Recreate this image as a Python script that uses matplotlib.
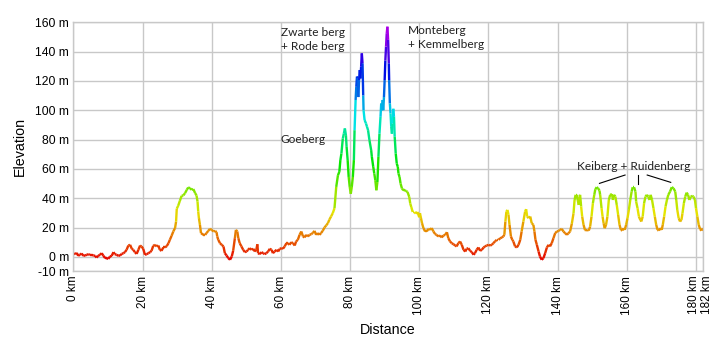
import numpy as np
import matplotlib
matplotlib.use("Agg")
import matplotlib.pyplot as plt
from matplotlib.collections import LineCollection
from matplotlib.colors import hsv_to_rgb
from matplotlib.transforms import ScaledTranslation

# ---- data ----
distance_km = [
    0.0, 0.5, 1.0, 1.4, 1.9, 2.4, 2.9, 3.4, 3.9, 4.3, 4.8, 5.3, 5.8, 6.3, 6.7, 7.2, 7.7, 8.2, 8.7, 9.2,
    9.6, 10.1, 10.6, 11.1, 11.6, 12.0, 12.5, 13.0, 13.5, 14.0, 14.5, 14.9, 15.4, 15.9, 16.4, 16.9, 17.3,
    17.8, 18.3, 18.8, 19.3, 19.7, 20.2, 20.7, 21.2, 21.7, 22.2, 22.6, 23.1, 23.6, 24.1, 24.6, 25.0, 25.5,
    26.0, 26.5, 27.0, 27.5, 27.9, 28.4, 28.9, 29.4, 29.7, 29.9, 30.3, 30.8, 31.3, 31.8, 32.3, 32.8, 33.2,
    33.7, 34.2, 34.7, 35.2, 35.6, 35.9, 36.1, 36.3, 36.6, 36.9, 37.6, 38.1, 38.5, 39.0, 39.5, 40.0, 40.5,
    41.0, 41.4, 41.6, 41.9, 42.4, 42.9, 43.4, 43.8, 44.3, 44.8, 45.3, 45.8, 46.2, 46.7, 47.0, 47.4, 47.7,
    48.1, 48.6, 49.1, 49.6, 50.1, 50.5, 51.0, 51.5, 52.0, 52.5, 52.9, 53.2, 53.4, 53.9, 54.4, 54.9, 55.3,
    55.8, 56.3, 56.8, 57.3, 57.7, 58.2, 58.7, 59.2, 59.7, 60.1, 60.6, 61.1, 61.6, 62.0, 62.5, 63.0, 63.5,
    64.0, 64.4, 64.9, 65.4, 65.9, 66.4, 66.8, 67.3, 67.8, 68.3, 68.8, 69.2, 69.7, 70.2, 70.7, 71.2, 71.6,
    72.1, 72.6, 73.1, 73.6, 74.0, 74.5, 75.0, 75.5, 76.0, 76.5, 76.9, 77.2, 77.5, 77.9, 78.2, 78.5, 78.8,
    79.0, 79.3, 79.6, 79.9, 80.2, 80.5, 80.8, 81.1, 81.3, 81.6, 81.8, 82.0, 82.2, 82.4, 82.6, 82.8, 83.0,
    83.2, 83.4, 83.6, 83.8, 83.9, 84.2, 84.6, 84.9, 85.2, 85.6, 86.1, 86.3, 86.7, 87.0, 87.3, 87.6, 87.9,
    88.2, 88.5, 88.8, 89.0, 89.2, 89.4, 89.6, 89.8, 90.0, 90.2, 90.4, 90.6, 90.8, 91.0, 91.2, 91.3, 91.5,
    91.7, 91.9, 92.1, 92.3, 92.5, 92.7, 92.9, 93.2, 93.5, 93.8, 94.0, 94.3, 94.6, 95.0, 95.4, 95.8, 96.2,
    96.6, 97.1, 97.4, 97.7, 98.1, 98.6, 99.0, 99.5, 100.0, 100.2, 100.5, 100.8, 101.2, 101.7, 102.2,
    102.6, 103.1, 103.6, 104.1, 104.6, 105.0, 105.5, 106.0, 106.5, 107.0, 107.5, 108.0, 108.4, 108.9,
    109.4, 109.9, 110.4, 110.8, 111.3, 111.8, 112.3, 112.8, 113.3, 113.7, 114.2, 114.7, 115.2, 115.7,
    116.1, 116.6, 117.1, 117.6, 118.1, 118.6, 119.0, 119.5, 120.0, 120.5, 121.0, 121.4, 121.9, 122.4,
    122.9, 123.4, 123.9, 124.3, 124.6, 124.9, 125.2, 125.5, 125.8, 126.1, 126.5, 126.9, 127.2, 127.7,
    128.2, 128.7, 129.2, 129.6, 130.1, 130.6, 130.9, 131.2, 131.6, 132.1, 132.5, 133.0, 133.3, 133.6,
    134.0, 134.5, 134.9, 135.4, 135.9, 136.4, 136.9, 137.4, 137.8, 138.3, 138.8, 139.3, 139.8, 140.3,
    140.7, 141.2, 141.7, 142.2, 142.7, 143.1, 143.6, 144.1, 144.6, 144.9, 145.2, 145.5, 145.8, 146.1,
    146.3, 146.5, 146.8, 147.1, 147.5, 147.9, 148.2, 148.6, 149.0, 149.4, 149.8, 150.2, 150.6, 150.9,
    151.3, 151.7, 152.1, 152.3, 152.7, 153.0, 153.3, 153.6, 154.0, 154.4, 154.8, 155.2, 155.7, 156.0,
    156.3, 156.7, 157.1, 157.5, 157.9, 158.3, 158.7, 159.0, 159.4, 159.8, 160.2, 160.6, 161.0, 161.4,
    161.7, 162.1, 162.5, 162.7, 163.1, 163.5, 163.9, 164.2, 164.6, 165.0, 165.4, 165.8, 166.2, 166.6,
    166.9, 167.3, 167.7, 168.1, 168.5, 168.9, 169.2, 169.6, 170.1, 170.4, 170.8, 171.2, 171.6, 172.0,
    172.5, 173.0, 173.5, 174.0, 174.3, 174.6, 175.0, 175.4, 175.8, 176.1, 176.5, 176.9, 177.3, 177.7,
    178.1, 178.5, 178.9, 179.3, 179.7, 180.0, 180.4, 180.8, 181.2, 181.6, 182.0,
]
elevation_m = [
    2.3, 1.8, 2.7, 0.7, 1.4, 2.3, 0.7, 0.9, 1.4, 1.8, 1.4, 1.4, 0.9, 0.7, -0.5, 0.7, 1.4, 2.5, 0.7, -0.9,
    -0.9, -1.4, 0.2, 0.7, 3.2, 1.8, 1.4, 0.7, 0.9, 2.0, 2.5, 3.2, 4.8, 7.7, 8.2, 5.5, 4.8,
    3.2, 2.0, 4.8, 7.7, 7.1, 5.5, 1.4, 1.8, 2.5, 3.2, 4.1, 7.5, 8.2, 7.1, 7.7, 4.8, 4.1,
    6.4, 6.4, 7.3, 9.3, 11.6, 14.3, 17.3, 19.6, 24.0, 32.8, 34.8, 38.2, 41.6, 41.9, 43.5, 45.7, 47.3,
    46.9, 45.7, 46.2, 43.5, 41.9, 37.8, 31.0, 26.4, 21.8, 16.2, 15.0, 15.0, 16.2, 17.7, 19.1, 18.4, 17.3,
    17.7, 16.8, 13.9, 11.6, 9.3, 8.2, 7.1, 2.5, 0.9, -0.9, -2.0, 0.2, 4.1, 12.7, 18.4, 17.3, 12.7,
    9.3, 7.1, 4.8, 3.2, 3.6, 4.8, 5.9, 4.8, 5.5, 3.6, 4.8, 8.6, 2.5, 1.8, 3.2, 2.5, 1.8,
    2.5, 3.6, 5.5, 4.8, 2.5, 3.6, 4.8, 3.6, 5.5, 5.9, 5.5, 7.1, 9.3, 9.3, 8.2, 10.0, 9.3,
    7.7, 10.5, 11.6, 15.0, 17.3, 13.9, 13.2, 15.0, 13.9, 15.0, 15.5, 16.2, 17.7, 15.0, 16.2, 15.0, 16.2,
    17.7, 20.0, 21.4, 23.0, 25.3, 27.5, 29.8, 33.2, 47.7, 55.7, 58.0, 66.0, 70.5, 80.7, 84.0, 87.6, 83.0,
    75.0, 66.0, 54.5, 47.7, 43.0, 47.7, 54.5, 66.0, 86.4, 107.0, 116.0, 123.0, 122.0, 109.0, 120.6, 127.4, 121.7,
    129.7, 138.8, 132.0, 110.0, 100.0, 93.3, 91.0, 88.7, 86.4, 79.6, 72.8, 68.2, 61.4, 56.8, 52.3, 45.4, 51.0,
    68.2, 84.0, 95.5, 104.6, 100.0, 107.0, 100.0, 109.0, 120.6, 134.0, 143.4, 152.5, 157.0, 148.0, 132.0, 120.6, 104.6,
    97.8, 88.7, 84.0, 91.0, 101.0, 95.5, 81.9, 70.5, 63.6, 61.4, 56.8, 54.5, 50.0, 46.6, 45.4, 45.4, 44.9,
    44.3, 40.9, 36.3, 34.0, 30.6, 30.6, 29.5, 30.6, 27.0, 29.8, 26.4, 23.0, 19.6, 17.3, 17.3,
    19.1, 18.4, 19.6, 17.3, 15.5, 15.0, 13.9, 14.6, 13.2, 14.6, 15.0, 16.8, 12.7, 10.5,
    9.3, 8.6, 7.7, 7.1, 9.3, 10.5, 8.2, 4.8, 3.6, 5.5, 5.9, 4.1, 3.2, 1.4,
    2.5, 4.8, 6.4, 4.1, 4.8, 6.4, 7.1, 7.7, 8.2, 7.7, 8.2, 9.3, 10.5, 11.6,
    11.6, 12.7, 13.2, 13.9, 15.0, 24.1, 30.9, 32.0, 28.7, 21.8, 13.9, 11.6, 10.5, 7.1,
    6.4, 8.2, 11.6, 17.3, 24.1, 30.9, 32.5, 27.5, 26.4, 27.5, 23.0, 21.8, 17.3, 11.6,
    8.2, 3.6, 0.2, -2.0, -0.9, 2.5, 6.4, 8.2, 7.1, 9.3, 12.7, 16.2, 17.3, 17.7,
    18.4, 19.1, 17.2, 16.1, 15.0, 16.1, 17.2, 22.5, 29.7, 38.8, 42.3, 42.3, 38.8, 35.4,
    41.1, 42.3, 34.3, 27.5, 21.8, 18.4, 17.9, 18.4, 17.9, 20.6, 27.5, 36.6, 42.3, 46.1,
    47.5, 46.8, 45.2, 42.3, 33.2, 27.5, 22.9, 19.5, 21.8, 27.5, 38.8, 42.3, 42.8, 38.8,
    42.3, 41.1, 35.4, 28.6, 21.8, 18.4, 17.9, 19.5, 18.4, 21.8, 26.3, 32.0, 38.8, 44.5,
    47.5, 47.5, 44.5, 37.7, 33.2, 27.5, 25.2, 24.1, 27.5, 36.6, 41.1, 42.3, 41.1, 38.8,
    42.3, 38.8, 33.2, 27.5, 21.8, 18.4, 17.9, 19.5, 18.4, 21.8, 27.5, 34.3, 38.8, 42.3,
    44.5, 47.5, 46.8, 44.5, 38.8, 32.0, 26.3, 24.1, 25.2, 29.7, 36.6, 41.1, 43.8, 42.3,
    38.8, 41.1, 41.6, 41.1, 38.8, 33.2, 27.5, 21.8, 18.8, 17.9, 19.5,
]
x_ticks = [0, 20, 40, 60, 80, 100, 120, 140, 160, 180, 182]
x_tick_labels = ["0 km", "20 km", "40 km", "60 km", "80 km", "100 km", "120 km",
                 "140 km", "160 km", "180 km", "182 km"]
y_ticks = [-10, 0, 20, 40, 60, 80, 100, 120, 140, 160]
y_tick_labels = ["-10 m", "0 m", "20 m", "40 m", "60 m", "80 m", "100 m",
                 "120 m", "140 m", "160 m"]
climb_labels = ["Zwarte berg\n+ Rode berg", "Goeberg", "Monteberg\n+ Kemmelberg",
                "Keiberg + Ruidenberg"]
climb_label_pos = [(60.0, 148.5), (60.0, 80.0), (96.8, 149.5), (145.5, 61.5)]
keiberg_pointers = [((159.5, 55.8), (152.1, 50.1)),
                    ((163.2, 55.8), (163.2, 49.4)),
                    ((165.9, 55.8), (172.7, 50.8))]

# ---- figure ----
x = np.array(distance_km)
y = np.array(elevation_m)

fig = plt.figure(figsize=(7.19, 3.43), dpi=100)
ax = fig.add_axes([0.102, 0.2085, 0.8756, 0.7265])

grid_col = "#c8c8c8"
ax.set_xlim(0, 182)
ax.set_ylim(-10, 160)
ax.set_xticks(x_ticks)
ax.set_xticklabels(x_tick_labels, rotation=90, family="Liberation Sans", fontsize=8.5)
ax.set_yticks(y_ticks)
ax.set_yticklabels(y_tick_labels, family="Liberation Sans", fontsize=8.7)
ax.tick_params(length=0, pad=3)
ax.grid(True, color=grid_col, linewidth=1.0)
ax.set_axisbelow(True)
for s in ax.spines.values():
    s.set_color(grid_col)
    s.set_linewidth(1.0)

# separate the two closely spaced last distance labels
xlabels = ax.get_xticklabels()
xlabels[-1].set_transform(xlabels[-1].get_transform() + ScaledTranslation(4 / 100, 0, fig.dpi_scale_trans))
xlabels[-2].set_transform(xlabels[-2].get_transform() + ScaledTranslation(-2 / 100, 0, fig.dpi_scale_trans))

# elevation-coloured line
pts = np.column_stack([x, y]).reshape(-1, 1, 2)
segs = np.concatenate([pts[:-1], pts[1:]], axis=1)
mid = (y[:-1] + y[1:]) / 2
lo, hi = y.min(), y.max()
hue = np.clip((mid - lo) / (hi - lo), 0, 1) * 0.81
hsv = np.column_stack([hue, np.ones_like(hue), np.full_like(hue, 0.9)])
cols = hsv_to_rgb(hsv)
lc = LineCollection(segs, colors=cols, linewidths=1.7, capstyle="butt", joinstyle="miter")
ax.add_collection(lc)

# annotations
for txt, (tx, ty) in zip(climb_labels, climb_label_pos):
    ax.text(tx, ty, txt, family="Lato", fontsize=8.6, color="#222222",
            ha="left", va="center", linespacing=1.35)
for (a, b) in keiberg_pointers:
    ax.plot([a[0], b[0]], [a[1], b[1]], color="black", linewidth=0.8)

ax.set_xlabel("Distance", family="Liberation Sans", fontsize=10.3, labelpad=6)
ax.set_ylabel("Elevation", family="Liberation Sans", fontsize=10.3, labelpad=6)

fig.savefig("out.png", dpi=100)
